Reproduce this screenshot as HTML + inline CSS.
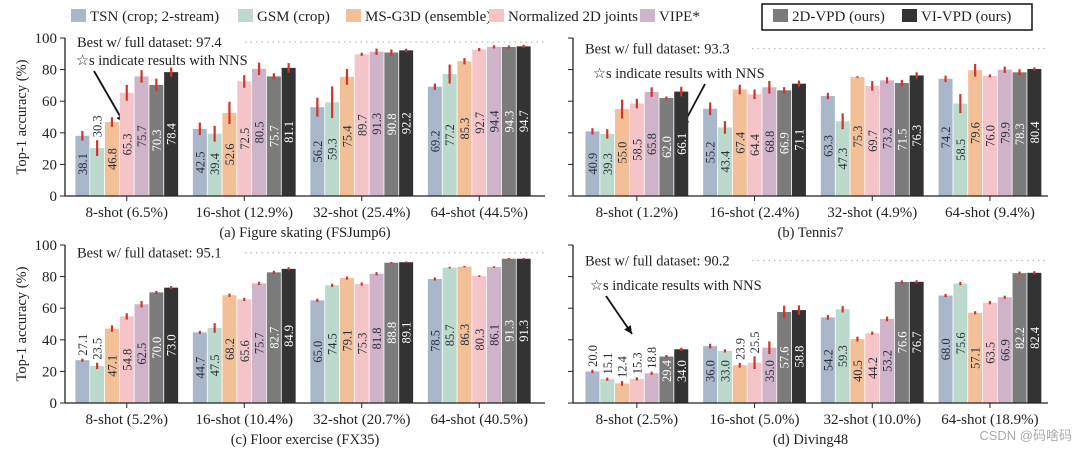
<!DOCTYPE html>
<html><head><meta charset="utf-8">
<style>
html,body{margin:0;padding:0;background:#fff;}
svg{display:block;font-family:"Liberation Serif",serif;}
</style></head>
<body>
<svg id="chart" width="1080" height="453" viewBox="0 0 1080 453" xmlns="http://www.w3.org/2000/svg">
  <g id="legend"></g>
</svg>
<script>
const methods = ["TSN (crop; 2-stream)","GSM (crop)","MS-G3D (ensemble)","Normalized 2D joints","VIPE*","2D-VPD (ours)","VI-VPD (ours)"];
const colors = ["#a9b7cb","#bcd9cd","#f2bf97","#f5c4c8","#cfb3c8","#7b7b7b","#333333"];

const catsA = ["8-shot (6.5%)","16-shot (12.9%)","32-shot (25.4%)","64-shot (44.5%)"];
const valsA = [[38.1,30.3,46.8,65.3,75.7,70.3,78.4],[42.5,39.4,52.6,72.5,80.5,75.7,81.1],[56.2,59.3,75.4,89.7,91.3,90.8,92.2],[69.2,77.2,85.3,92.7,94.4,94.3,94.7]];
const errA = [[3,5,3,5,4,4,3],[4,5,7,4,4,2,3],[6,10,5,1,2,2,1],[2,6,2,1,1,1,1]];
const bestA = 97.4;

const catsB = ["8-shot (1.2%)","16-shot (2.4%)","32-shot (4.9%)","64-shot (9.4%)"];
const valsB = [[40.9,39.3,55.0,58.5,65.8,62.0,66.1],[55.2,43.4,67.4,64.4,68.8,66.9,71.1],[63.3,47.3,75.3,69.7,73.2,71.5,76.3],[74.2,58.5,79.6,76.0,79.9,78.3,80.4]];
const errB = [[2,3,6,3,3,1,3],[4,4,3,3,4,2,2],[2,5,0.5,3,2,2,2],[2,6,4,1,2,2,1]];
const bestB = 93.3;

const catsC = ["8-shot (5.2%)","16-shot (10.4%)","32-shot (20.7%)","64-shot (40.5%)"];
const valsC = [[27.1,23.5,47.1,54.8,62.5,70.0,73.0],[44.7,47.5,68.2,65.6,75.7,82.7,84.9],[65.0,74.5,79.1,75.3,81.8,88.8,89.1],[78.5,85.7,86.3,80.3,86.1,91.3,91.3]];
const errC = [[1,2,2,2,2,1,1],[1,3,1,1,1,1,1],[1,1,1,1,1,0.5,0.5],[1,0.5,0.5,0.5,0.5,0.5,0.5]];
const bestC = 95.1;

const catsD = ["8-shot (2.5%)","16-shot (5.0%)","32-shot (10.0%)","64-shot (18.9%)"];
const valsD = [[20.0,15.1,12.4,15.3,18.8,29.4,34.0],[36.0,33.0,23.9,25.5,35.0,57.6,58.8],[54.2,59.3,40.5,44.2,53.2,76.6,76.7],[68.0,75.6,57.1,63.5,66.9,82.2,82.4]];
const errD = [[1,1,1.5,1,1,1,1],[1.5,1,1.5,4,4,4,3],[1.5,2,1.5,1,1.5,1,1],[1,1,1,1,1,1,1]];
const bestD = 90.2;

const yTicks = [0,20,40,60,80,100];
const NS = "http://www.w3.org/2000/svg";
const svg = document.getElementById("chart");
function mk(tag, attrs, parent){const e=document.createElementNS(NS,tag);for(const k in attrs)e.setAttribute(k,attrs[k]);(parent||svg).appendChild(e);return e;}

function panel(p){
  const g = mk("g",{});
  
  
  const y = v => p.base - v*p.scale;
  const x = i => p.x0 + p.gap*(i+0.5);
  const bw = 14, pitch = 14.8;
  const bl = mk("line",{x1:p.dashStart,x2:p.axisEnd,y1:y(p.best),y2:y(p.best),stroke:"#bbb","stroke-width":1.2,"stroke-dasharray":"1.5 4"},g);
  
  
  const bt = mk("text",{x:p.axisX+12,y:y(p.best)+5,"font-size":14.5,fill:"#222"},g);
  bt.textContent = "Best w/ full dataset: " + p.best.toFixed(1);
  
  
  if(p.nns){
    const nt = mk("text",{x:p.nns[0],y:p.nns[1],"font-size":14.5,fill:"#222"},g);
    nt.textContent = "☆s indicate results with NNS";
    
    
    const ar = mk("line",{x1:p.arrow[0],y1:p.arrow[1],x2:p.arrow[2],y2:p.arrow[3],stroke:"#111","stroke-width":1.8},g);
    
    
    const dx=p.arrow[2]-p.arrow[0],dy=p.arrow[3]-p.arrow[1],L=Math.hypot(dx,dy),ux=dx/L,uy=dy/L;
    const hx=p.arrow[2],hy=p.arrow[3];
    const ah = mk("polygon",{points:`${hx},${hy} ${hx-ux*8-uy*4},${hy-uy*8+ux*4} ${hx-ux*8+uy*4},${hy-uy*8-ux*4}`,fill:"#111"},g);
    
    
  }
  p.vals.forEach((grp,gi)=>{
    grp.forEach((v,mi)=>{
      const cx = x(gi) + (mi-3)*pitch;
      const r = mk("rect",{x:cx-bw/2,y:y(v),width:bw,height:v*p.scale,fill:colors[mi]},g);
      
      
      const e = p.err[gi][mi];
      const el = mk("line",{x1:cx,x2:cx,y1:y(v+e),y2:y(v-e),stroke:"#d0342c","stroke-width":2.2},g);
      
      
      const h = v*p.scale;
      let tx, anchor;
      if(v < 31 && mi < 5){ tx = y(v+p.err[gi][mi]) - 3; anchor="start"; }
      else { tx = p.base - Math.max(h/2, 32); anchor="middle"; }
      const t = mk("text",{x:0,y:0,"font-size":12.5,fill:mi>=5?"#fff":"#2a2f3a","text-anchor":anchor,transform:`translate(${cx+4.5},${tx}) rotate(-90)`},g);
      t.textContent = v.toFixed(1);
      
      
    });
    const tk = mk("line",{x1:x(gi),x2:x(gi),y1:p.base,y2:p.base+5,stroke:"#222","stroke-width":1},g);
    
    
    const tl = mk("text",{x:x(gi),y:p.base+21,"font-size":15,"text-anchor":"middle",fill:"#222"},g);
    tl.textContent = p.cats[gi];
    
    
  });
  const ax = mk("line",{x1:p.axisX,x2:p.axisEnd,y1:p.base,y2:p.base,stroke:"#222","stroke-width":1.3},g);
  
  
  const ay = mk("line",{x1:p.axisX,x2:p.axisX,y1:p.base,y2:y(100),stroke:"#222","stroke-width":1.3},g);
  
  
  yTicks.forEach(tv=>{
    const yt = mk("line",{x1:p.axisX-5,x2:p.axisX,y1:y(tv),y2:y(tv),stroke:"#222","stroke-width":1},g);
    
    
    if(p.yLabels){
      const ytl = mk("text",{x:p.axisX-8,y:y(tv)+5,"font-size":15,"text-anchor":"end",fill:"#222"},g);
      ytl.textContent = tv;
      
      
    }
  });
  if(p.yLabels){
    const yt = mk("text",{x:0,y:0,"font-size":14.5,"text-anchor":"middle",fill:"#222",transform:`translate(26,${y(50)}) rotate(-90)`},g);
    yt.textContent = "Top-1 accuracy (%)";
    
    
  }
  const ti = mk("text",{x:(p.axisX+p.axisEnd)/2,y:p.base+41,"font-size":14.5,"text-anchor":"middle",fill:"#222"},g);
  ti.textContent = p.title;
  
  
}

panel({name:"panel-figure-skating",cats:catsA,vals:valsA,err:errA,best:bestA,base:196,scale:1.58,axisX:65,axisEnd:545,x0:68,gap:117.5,dashStart:245,yLabels:true,title:"(a) Figure skating (FSJump6)",nns:[76,65],arrow:[94,71,124,123]});
panel({name:"panel-tennis",cats:catsB,vals:valsB,err:errB,best:bestB,base:196,scale:1.58,axisX:573,axisEnd:1048,x0:578,gap:117.7,dashStart:752,yLabels:false,title:"(b) Tennis7",nns:[593,78],arrow:[705,84,682,127]});
panel({name:"panel-floor-exercise",cats:catsC,vals:valsC,err:errC,best:bestC,base:403,scale:1.58,axisX:65,axisEnd:545,x0:68,gap:117.5,dashStart:245,yLabels:true,title:"(c) Floor exercise (FX35)"});
panel({name:"panel-diving",cats:catsD,vals:valsD,err:errD,best:bestD,base:403,scale:1.58,axisX:573,axisEnd:1048,x0:578,gap:117.7,dashStart:752,yLabels:false,title:"(d) Diving48",nns:[590,290],arrow:[606,296,632,334]});

const lg = document.getElementById("legend");
const lx = [71,238,346,489,640,773,902];
methods.forEach((m,i)=>{
  const r = mk("rect",{x:lx[i],y:9,width:15,height:13,fill:colors[i]},lg);
  
  
  const t = mk("text",{x:lx[i]+19,y:21,"font-size":15,fill:"#222"},lg);
  t.textContent = m;
  
  
});
const box = mk("rect",{x:762,y:4,width:270,height:26,fill:"none",stroke:"#111","stroke-width":1.5},lg);


const wm = mk("text",{x:1072,y:440,"font-size":13,"text-anchor":"end",fill:"#aaa","font-family":"Liberation Sans, Noto Sans CJK SC, sans-serif"});
wm.textContent = "CSDN @码啥码";


</script>
</body></html>
